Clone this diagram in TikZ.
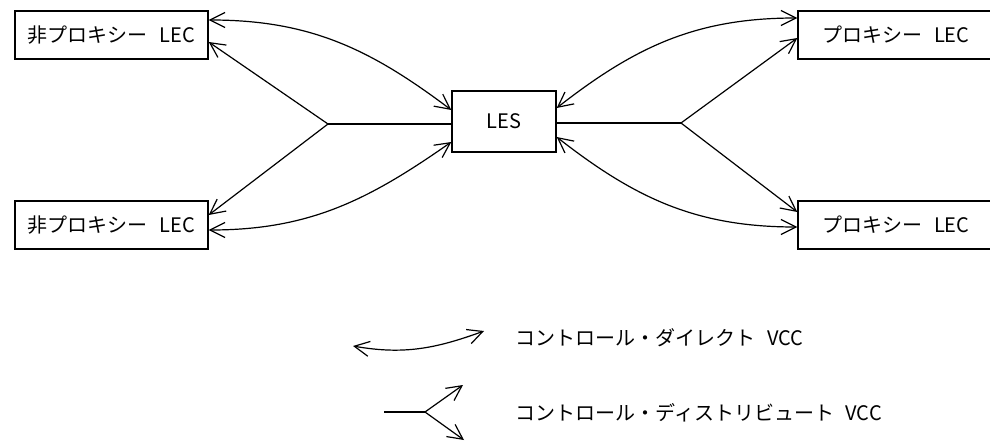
\documentclass[tikz,border=0pt]{standalone}
\usepackage{fontspec}
\setmainfont[WordSpace={2.6,0,0}]{Noto Sans CJK JP}
\usetikzlibrary{arrows.meta}
\tikzset{
  lec/.style={draw,line width=0.7pt,minimum width=96.5pt,minimum height=24pt,inner sep=0pt},
  vcc/.style={line width=0.6pt,>={Straight Barb[length=7.5pt,width=7.5pt]}},
  legtext/.style={anchor=west,inner sep=0pt}
}
\begin{document}
\begin{tikzpicture}[x=0.5pt,y=0.5pt,font=\fontsize{10pt}{12pt}\selectfont]
\useasboundingbox (0,0) rectangle (990,440);
\node[lec] (ltop) at (111.5,405) {非プロキシー LEC};
\node[lec] (lbot) at (111.5,215) {非プロキシー LEC};
\node[lec,minimum width=98pt] (rtop) at (896,405) {プロキシー LEC};
\node[lec,minimum width=98pt] (rbot) at (896,215) {プロキシー LEC};
\node[lec,minimum width=52pt,minimum height=30.5pt] (les) at (504,318.5) {LES};

\coordinate (lfork) at (328,316);
\coordinate (rfork) at (681,317);
\draw[vcc] (lfork) -- (les.west |- lfork);
\draw[vcc,->] (lfork) -- ([yshift=-3.5pt]ltop.east);
\draw[vcc,->] (lfork) -- ([yshift=5pt]lbot.east);
\draw[vcc] (rfork) -- (les.east |- rfork);
\draw[vcc,->] (rfork) -- ([yshift=-1.5pt]rtop.west);
\draw[vcc,->] (rfork) -- ([yshift=6.5pt]rbot.west);
\draw[vcc,<->] ([yshift=7.5pt]ltop.east) to[out=0,in=143] ([yshift=5.75pt]les.west);
\draw[vcc,<->] ([yshift=-2.5pt]lbot.east) to[out=0,in=-145] ([yshift=-10.25pt]les.west);
\draw[vcc,<->] ([yshift=6.75pt]les.east) to[out=38,in=180] ([yshift=8.5pt]rtop.west);
\draw[vcc,<->] ([yshift=-7.75pt]les.east) to[out=-38,in=180] ([yshift=-1pt]rbot.west);

\coordinate (da) at (353,94);
\coordinate (db) at (484,109);
\draw[vcc,<->] (da) to[out=-10,in=200] (db);
\node[legtext] (dtext) at (515,102) {コントロール・ダイレクト VCC};

\coordinate (fa) at (384,28);
\coordinate (fb) at (425,28);
\coordinate (fc) at (463,55);
\coordinate (fd) at (464,0);
\draw[vcc] (fa) -- (fb);
\draw[vcc,->] (fb) -- (fc);
\draw[vcc,->] (fb) -- (fd);
\node[legtext] (ftext) at (515,27) {コントロール・ディストリビュート VCC};
\end{tikzpicture}
\end{document}
